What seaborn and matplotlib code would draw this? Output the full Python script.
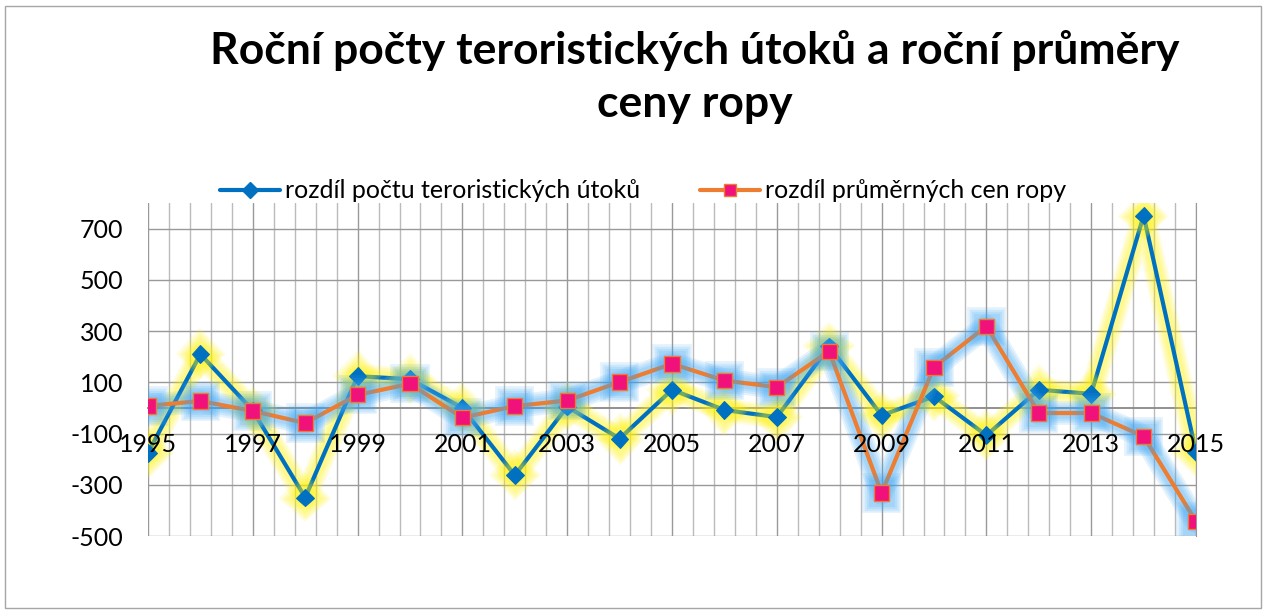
import matplotlib
matplotlib.use('Agg')
import matplotlib.pyplot as plt
import matplotlib.patheffects as pe
from matplotlib.lines import Line2D
from matplotlib.patches import Rectangle
import numpy as np
import pandas as pd
import seaborn as sns

years = list(range(1995, 2016))
utoky = [-175, 210, -10, -350, 124, 112, 0, -263, 5, -120, 71, -8, -36, 240,
         -29, 45, -107, 71, 55, 751, -172]
ropa = [8, 27, -12, -59, 51, 94, -38, 7, 29, 101, 172, 107, 81, 221,
        -332, 159, 319, -20, -20, -111, -443]
label_utoky = 'rozdíl počtu teroristických útoků'
label_ropa = 'rozdíl průměrných cen ropy'
title = 'Roční počty teroristických útoků a roční průměry\nceny ropy'

df = pd.DataFrame({'rok': years, 'utoky': utoky, 'ropa': ropa})

sns.set_style('white')
plt.rcParams['font.family'] = ['Lato', 'DejaVu Sans']
plt.rcParams['axes.unicode_minus'] = False
plt.rcParams['text.color'] = 'black'

blue = '#0070C0'
orange = '#ED7D31'
pink = '#F0127A'


def glow(color):
    effects = []
    for w in [17, 14, 11, 8]:
        effects.append(pe.Stroke(linewidth=w, foreground=color, alpha=0.14))
    effects.append(pe.Normal())
    return effects


fig = plt.figure(figsize=(12.66, 6.14), dpi=100)
ax = fig.add_axes([148 / 1266, 1 - 536 / 614, 1048 / 1266, 333 / 614])

sns.lineplot(data=df, x='rok', y='utoky', ax=ax, color=blue, linewidth=3,
             marker='D', markersize=9, markerfacecolor=blue,
             markeredgecolor=blue, zorder=3)
sns.lineplot(data=df, x='rok', y='ropa', ax=ax, color=orange, linewidth=3,
             marker='s', markersize=11, markerfacecolor=pink,
             markeredgecolor=orange, markeredgewidth=1, zorder=4)

ax.lines[0].set_path_effects(glow('#FFF200'))
ax.lines[1].set_path_effects(glow('#3DA5F4'))

ax.set_xlim(1995, 2015)
ax.set_ylim(-500, 800)
ax.set_yticks(np.arange(-500, 701, 200))
ax.set_xticks(np.arange(1995, 2016, 2))
ax.set_xticks(np.arange(1995, 2015.01, 0.4), minor=True)
ax.set_xlabel('')
ax.set_ylabel('')

ax.grid(True, axis='y', color='#999999', linewidth=1)
ax.grid(True, axis='x', which='major', color='#999999', linewidth=1)
ax.grid(True, axis='x', which='minor', color='#BBBBBB', linewidth=1)
ax.set_axisbelow(True)

for s in ['top', 'left']:
    ax.spines[s].set_visible(False)
ax.spines['right'].set_color('#999999')
ax.spines['bottom'].set_position(('data', 0))
ax.spines['bottom'].set_color('#888888')
ax.spines['bottom'].set_linewidth(1.3)
ax.tick_params(axis='both', which='both', length=0, labelsize=18, pad=18,
               labelcolor='black')
ax.tick_params(axis='x', labelbottom=False)

# year labels drawn above the series, as in the original
for yr in ax.get_xticks():
    ax.annotate(str(int(yr)), xy=(yr, 0), xytext=(0, -26),
                textcoords='offset points', ha='center', va='center',
                fontsize=18, color='black', zorder=10,
                annotation_clip=False)

fig.text(0.549, 0.875, title, ha='center', va='center', fontsize=32,
         fontweight='bold', linespacing=1.4, color='black')

handles = [Line2D([], [], color=blue, linewidth=3, marker='D', markersize=8,
                  markerfacecolor=blue, markeredgecolor=blue),
           Line2D([], [], color=orange, linewidth=3, marker='s', markersize=9,
                  markerfacecolor=pink, markeredgecolor=orange)]
fig.legend(handles, [label_utoky, label_ropa], loc='center',
           bbox_to_anchor=(0.508, 1 - 191 / 614), ncol=2, frameon=False,
           fontsize=18, handlelength=2.4, handletextpad=0.2, columnspacing=2.4,
           labelcolor='black')

fig.patches.append(Rectangle((5 / 1266, 6 / 614), 1256 / 1266, 602 / 614,
                             transform=fig.transFigure, fill=False,
                             edgecolor='#A6A6A6', linewidth=1))

fig.savefig('out.png', dpi=100)
